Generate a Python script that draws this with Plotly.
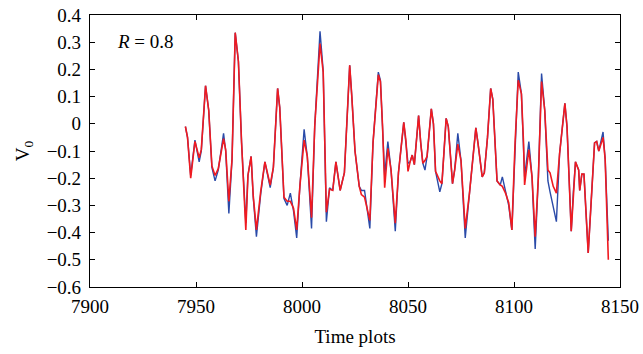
import plotly.graph_objects as go

time = [7945, 7946, 7947.5, 7949.5, 7951.5, 7952.5, 7954.5, 7956, 7957.5, 7959, 7960.5, 7963, 7964, 7965.5, 7967,
        7968.5, 7970, 7971.5, 7973.5, 7974.5, 7976, 7977, 7978.5, 7980.5, 7982.5, 7985, 7986.5, 7988.5, 7989.5,
        7991.5, 7993, 7994.5, 7996, 7997.5, 7999, 8001, 8002.5, 8004.5, 8006, 8008.5, 8010, 8011.5, 8013, 8014.5,
        8016, 8018, 8020, 8022.5, 8023.5, 8025, 8027, 8028, 8029.5, 8032, 8033.5, 8036, 8037, 8038, 8039, 8040.5,
        8042, 8044, 8045.5, 8048, 8049, 8050, 8051, 8052, 8053, 8055, 8056, 8057, 8058, 8059, 8061, 8062, 8063,
        8065, 8066, 8068, 8069, 8071, 8072, 8073.5, 8075, 8077, 8079, 8082, 8083, 8085, 8086, 8087.5, 8089, 8090,
        8092, 8093.5, 8094.5, 8096, 8097.5, 8099, 8100.5, 8102, 8103.5, 8104.5, 8105, 8107, 8108.5, 8109, 8110,
        8111.5, 8113, 8114.5, 8116, 8117, 8118.5, 8120, 8121.5, 8124, 8125, 8127, 8128, 8129, 8130.5, 8131, 8132,
        8133, 8135, 8136.5, 8138, 8139, 8140, 8142, 8143, 8144.5]

blue = [-0.01, -0.05, -0.19, -0.06, -0.14, -0.10, 0.14, 0.05, -0.16, -0.21, -0.17, -0.035, -0.10, -0.33, -0.13,
        0.335, 0.23, -0.07, -0.365, -0.19, -0.12, -0.27, -0.415, -0.26, -0.14, -0.235, -0.16, 0.13, 0.06,
        -0.275, -0.30, -0.255, -0.32, -0.42, -0.23, -0.02, -0.12, -0.385, -0.01, 0.34, 0.195, -0.36, -0.235, -0.245,
        -0.14, -0.245, -0.18, 0.215, 0.10, -0.10, -0.23, -0.245, -0.245, -0.385, -0.07, 0.19, 0.16, -0.01, -0.19, -0.065,
        -0.17, -0.395, -0.18, 0.005, -0.06, -0.145, -0.14, -0.115, -0.15, 0.03, -0.07, -0.145, -0.17, -0.12, 0.055, 0.0, -0.175,
        -0.25, -0.22, 0.02, -0.01, -0.22, -0.17, -0.035, -0.135, -0.42, -0.255, -0.015, -0.07, -0.195, -0.18, -0.05, 0.13, 0.09,
        -0.21, -0.225, -0.195, -0.245, -0.30, -0.39, -0.07, 0.19, 0.11, -0.07, -0.195, -0.065, -0.195, -0.29, -0.46,
        -0.195, 0.185, 0.05, -0.21, -0.25, -0.31, -0.36, -0.11, 0.075, -0.01, -0.395, -0.25, -0.14, -0.17, -0.245, -0.185,
        -0.185, -0.475, -0.29, -0.07, -0.065, -0.10, -0.03, -0.13, -0.43]

red = [-0.01, -0.05, -0.20, -0.065, -0.125, -0.095, 0.14, 0.05, -0.155, -0.19, -0.165, -0.055, -0.095, -0.285, -0.13,
       0.335, 0.23, -0.07, -0.39, -0.19, -0.12, -0.265, -0.39, -0.25, -0.14, -0.225, -0.16, 0.13, 0.06,
       -0.27, -0.285, -0.285, -0.31, -0.39, -0.23, -0.06, -0.12, -0.345, -0.01, 0.295, 0.19, -0.325, -0.24, -0.245,
       -0.14, -0.245, -0.18, 0.215, 0.10, -0.10, -0.23, -0.26, -0.27, -0.355, -0.07, 0.18, 0.155, -0.01, -0.235, -0.09,
       -0.17, -0.365, -0.18, 0.005, -0.06, -0.175, -0.14, -0.115, -0.15, 0.03, -0.07, -0.145, -0.135, -0.12, 0.055, 0.0, -0.175,
       -0.21, -0.22, 0.02, -0.01, -0.22, -0.17, -0.075, -0.135, -0.385, -0.255, -0.015, -0.07, -0.195, -0.18, -0.05, 0.13, 0.09,
       -0.21, -0.225, -0.23, -0.255, -0.29, -0.39, -0.07, 0.16, 0.11, -0.07, -0.225, -0.095, -0.195, -0.29, -0.415,
       -0.195, 0.155, 0.05, -0.17, -0.18, -0.23, -0.255, -0.11, 0.075, -0.01, -0.395, -0.25, -0.14, -0.17, -0.245, -0.185,
       -0.185, -0.475, -0.29, -0.07, -0.065, -0.10, -0.05, -0.13, -0.50]

x_ticks = [7900, 7950, 8000, 8050, 8100, 8150]
y_ticks = [0.4, 0.3, 0.2, 0.1, 0, -0.1, -0.2, -0.3, -0.4, -0.5, -0.6]
y_tick_text = ["0.4", "0.3", "0.2", "0.1", "0", "\u22120.1", "\u22120.2", "\u22120.3", "\u22120.4", "\u22120.5", "\u22120.6"]

FONT = "Liberation Serif, DejaVu Serif, serif"

fig = go.Figure()
fig.add_trace(go.Scatter(x=time, y=blue, mode="lines", line=dict(color="#2a4aa8", width=1.4), showlegend=False))
fig.add_trace(go.Scatter(x=time, y=red, mode="lines", line=dict(color="#f01a20", width=1.6), showlegend=False))

axis_common = dict(showline=True, linecolor="black", linewidth=1.2, mirror="ticks", ticks="inside",
                   ticklen=5, tickcolor="black", showgrid=False, zeroline=False, automargin=False,
                   ticklabeloverflow="allow",
                   tickfont=dict(family=FONT, size=19, color="black"))
fig.update_xaxes(range=[7900, 8150], tickvals=x_ticks, ticktext=[str(v) for v in x_ticks],
                 ticklabelstandoff=2,
                 title=dict(text="Time plots", font=dict(family=FONT, size=19, color="black"), standoff=13),
                 **axis_common)
fig.update_yaxes(range=[-0.6, 0.4], tickvals=y_ticks, ticktext=y_tick_text,
                 ticklabelstandoff=4,
                 title=dict(text="V<sub>0</sub>", font=dict(family=FONT, size=19, color="black"), standoff=11),
                 **axis_common)

fig.add_annotation(x=0.048, y=0.95, xref="paper", yref="paper", xanchor="left", yanchor="top",
                   text="<i>R</i> = 0.8", showarrow=False, font=dict(family=FONT, size=19, color="black"))

fig.update_layout(width=643, height=354, margin=dict(l=90, r=23, t=15, b=67),
                  plot_bgcolor="white", paper_bgcolor="white")

fig.write_html("out.html", config={"displayModeBar": False},
               post_script="document.body.style.margin='0';document.body.style.overflow='hidden';")
